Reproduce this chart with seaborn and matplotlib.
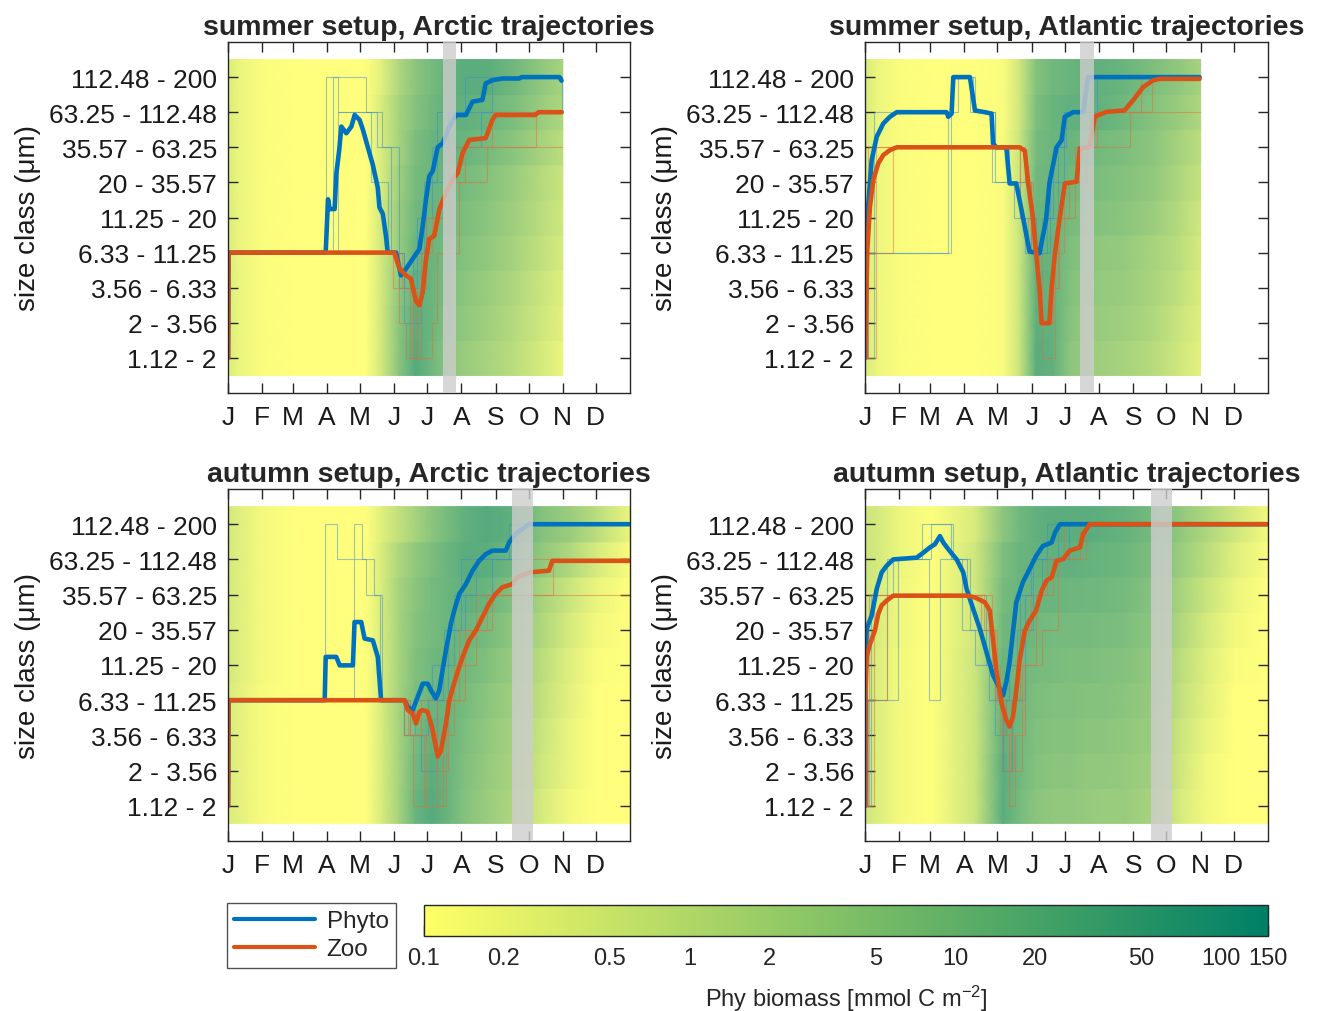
import numpy as np
import matplotlib
matplotlib.use("Agg")
import matplotlib.pyplot as plt
import matplotlib as mpl
from matplotlib.colors import LogNorm, ListedColormap
from matplotlib.lines import Line2D
import seaborn as sns

# ---------------- data ----------------
month_labels = ['J', 'F', 'M', 'A', 'M', 'J', 'J', 'A', 'S', 'O', 'N', 'D']
month_start_days = [0, 31, 59, 90, 120, 151, 181, 212, 243, 273, 304, 334]
size_classes = ['1.12 - 2', '2 - 3.56', '3.56 - 6.33', '6.33 - 11.25', '11.25 - 20',
                '20 - 35.57', '35.57 - 63.25', '63.25 - 112.48', '112.48 - 200']
titles = ['summer setup, Arctic trajectories', 'summer setup, Atlantic trajectories',
          'autumn setup, Arctic trajectories', 'autumn setup, Atlantic trajectories']
bands = [(195, 207), (195, 207), (258, 277), (259, 278)]

cbar_ticks = [0.1, 0.2, 0.5, 1, 2, 5, 10, 20, 50, 100, 150]
cbar_labels = ['0.1', '0.2', '0.5', '1', '2', '5', '10', '20', '50', '100', '150']

# biomass knots (day of year) and biomass per size class (row 1 = smallest)
knots_summer = [0, 10, 30, 60, 100, 125, 140, 155, 170, 185, 200, 215, 235, 260, 285, 304]
knots_autumn = [0, 10, 30, 60, 100, 125, 140, 155, 170, 185, 200, 215, 235, 260, 285, 310, 335, 365]

bio_summer_arctic = [
    [0.35, 0.2, 0.12, 0.1, 0.1, 0.1, 0.5, 5, 30, 12, 5, 3, 2, 1, 0.4, 0.2],
    [0.35, 0.2, 0.12, 0.1, 0.1, 0.1, 0.5, 5, 25, 15, 6, 4, 2.5, 1.2, 0.5, 0.25],
    [0.35, 0.2, 0.12, 0.1, 0.1, 0.1, 0.5, 4, 20, 15, 8, 5, 3, 1.5, 0.6, 0.3],
    [0.35, 0.2, 0.12, 0.1, 0.1, 0.1, 0.5, 3, 15, 15, 10, 6, 4, 2, 0.8, 0.4],
    [0.35, 0.2, 0.12, 0.1, 0.1, 0.1, 0.5, 3, 12, 15, 12, 8, 5, 2.5, 1, 0.5],
    [0.35, 0.2, 0.12, 0.1, 0.1, 0.1, 0.4, 2.5, 10, 15, 15, 10, 6, 3, 1.2, 0.6],
    [0.35, 0.2, 0.12, 0.1, 0.1, 0.1, 0.4, 2, 8, 15, 18, 15, 10, 5, 2, 1],
    [0.35, 0.2, 0.12, 0.1, 0.1, 0.1, 0.4, 2, 6, 12, 20, 20, 15, 8, 3, 1.5],
    [0.35, 0.2, 0.12, 0.1, 0.1, 0.1, 0.3, 1.5, 5, 10, 18, 25, 25, 12, 4, 2],
]
bio_summer_atlantic = [
    [0.4, 0.2, 0.12, 0.1, 0.1, 0.12, 0.6, 25, 20, 5, 3, 2.5, 2, 1.2, 0.5, 0.25],
    [0.4, 0.2, 0.12, 0.1, 0.1, 0.12, 0.6, 22, 20, 6, 3.5, 3, 2.5, 1.5, 0.6, 0.3],
    [0.4, 0.2, 0.12, 0.1, 0.1, 0.12, 0.6, 20, 18, 7, 4, 3.5, 3, 1.8, 0.8, 0.35],
    [0.4, 0.2, 0.12, 0.1, 0.1, 0.12, 0.6, 18, 16, 8, 5, 4, 3.5, 2, 1, 0.4],
    [0.4, 0.2, 0.12, 0.1, 0.1, 0.12, 0.6, 15, 15, 10, 7, 6, 5, 3, 1.2, 0.5],
    [0.4, 0.2, 0.12, 0.1, 0.1, 0.12, 0.6, 12, 15, 12, 9, 8, 6, 4, 1.5, 0.7],
    [0.4, 0.2, 0.12, 0.1, 0.1, 0.12, 0.6, 10, 15, 15, 12, 10, 8, 5, 2, 1],
    [0.4, 0.2, 0.12, 0.1, 0.1, 0.12, 0.5, 8, 15, 20, 20, 18, 12, 6, 3, 1.5],
    [0.4, 0.2, 0.12, 0.1, 0.1, 0.12, 0.5, 6, 12, 15, 20, 20, 15, 8, 4, 2],
]
bio_autumn_arctic = [
    [0.35, 0.25, 0.13, 0.1, 0.1, 0.1, 0.4, 2, 15, 30, 15, 6, 3, 1.5, 0.4, 0.15, 0.1, 0.1],
    [0.35, 0.25, 0.13, 0.1, 0.1, 0.1, 0.4, 2, 12, 25, 15, 7, 3.5, 1.8, 0.5, 0.2, 0.1, 0.1],
    [0.35, 0.25, 0.13, 0.1, 0.1, 0.1, 0.4, 2, 10, 20, 15, 8, 4, 2, 0.6, 0.2, 0.1, 0.1],
    [0.35, 0.25, 0.13, 0.1, 0.1, 0.1, 0.4, 2, 8, 15, 15, 10, 5, 2.5, 0.8, 0.25, 0.1, 0.1],
    [0.45, 0.3, 0.15, 0.1, 0.1, 0.1, 0.4, 2, 7, 12, 15, 12, 7, 3, 1, 0.3, 0.12, 0.1],
    [0.45, 0.3, 0.15, 0.1, 0.1, 0.1, 0.4, 2, 6, 10, 15, 15, 10, 4, 1.5, 0.4, 0.15, 0.1],
    [0.45, 0.3, 0.15, 0.1, 0.1, 0.1, 0.4, 2, 5, 10, 15, 20, 15, 6, 2, 0.6, 0.2, 0.1],
    [0.45, 0.3, 0.15, 0.1, 0.1, 0.1, 0.4, 1.5, 4, 8, 15, 25, 25, 12, 4, 1.5, 0.4, 0.12],
    [0.45, 0.3, 0.15, 0.1, 0.1, 0.1, 0.3, 0.8, 2, 5, 10, 20, 30, 20, 6, 3, 1, 0.2],
]
bio_autumn_atlantic = [
    [0.5, 0.35, 0.15, 0.1, 0.6, 25, 10, 5, 4, 4, 3.5, 3, 3, 2, 0.4, 0.15, 0.1, 0.1],
    [0.5, 0.35, 0.15, 0.1, 0.6, 25, 12, 6, 5, 5, 4, 4, 3.5, 2.5, 0.5, 0.15, 0.1, 0.1],
    [0.5, 0.35, 0.15, 0.1, 0.6, 20, 12, 7, 6, 6, 5, 5, 4, 3, 0.6, 0.2, 0.1, 0.1],
    [0.5, 0.35, 0.15, 0.1, 0.6, 18, 12, 8, 7, 7, 6, 6, 5, 3.5, 0.8, 0.25, 0.1, 0.1],
    [0.5, 0.35, 0.15, 0.1, 0.6, 15, 12, 10, 9, 8, 8, 7, 6, 4, 1, 0.3, 0.12, 0.1],
    [0.55, 0.4, 0.18, 0.1, 0.5, 12, 15, 12, 10, 10, 10, 9, 8, 5, 1.5, 0.4, 0.15, 0.1],
    [0.55, 0.4, 0.18, 0.1, 0.5, 10, 15, 15, 15, 14, 13, 12, 10, 6, 2, 0.6, 0.2, 0.1],
    [0.6, 0.45, 0.2, 0.1, 0.5, 8, 15, 18, 20, 20, 18, 16, 14, 8, 3, 1, 0.3, 0.12],
    [0.6, 0.45, 0.2, 0.1, 0.4, 5, 12, 20, 25, 25, 25, 22, 18, 10, 4, 1.5, 0.5, 0.15],
]

# mean size-class trajectories (day, size-class position)
phyto_sa_day = [0, 0.5, 88.7, 90.8, 92.3, 96.8, 98.3, 101, 102.9, 107.4, 112, 115, 119.5, 122.5, 127,
                131.5, 136, 137.5, 140.6, 143.6, 145, 152.6, 157, 161.7, 167.7, 173.8, 176.8, 179.8,
                182.8, 185.9, 190.4, 194.9, 201, 207, 216, 222, 231, 234, 240, 249, 264, 267, 301, 302.8]
phyto_sa_row = [1, 4, 4, 5.52, 5.24, 5.24, 6.23, 6.93, 7.59, 7.4, 7.59, 7.92, 7.78, 7.5, 7.0,
                6.5, 5.85, 5.29, 5.1, 4.43, 4.0, 4.0, 3.35, 3.54, 3.82, 4.1, 4.76, 5.52,
                6.18, 6.32, 7.0, 7.12, 7.59, 7.92, 7.92, 8.3, 8.35, 8.82, 8.91, 8.96, 8.96, 9.0, 9.0, 8.9]
zoo_sa_day = [0, 0.5, 151, 155.7, 161.7, 166, 170.8, 173.8, 176.8, 179.8, 182.8, 187.3, 191.9, 198,
              204, 208.6, 213, 219, 234, 240, 243, 279, 282, 303]
zoo_sa_row = [1, 4, 4, 3.54, 3.35, 3.26, 2.6, 2.5, 2.88, 3.82, 4.39, 4.48, 5.24, 5.71,
              6.08, 6.27, 6.84, 7.21, 7.26, 7.78, 7.92, 7.92, 8.0, 8.0]

phyto_st_day = [0, 0.8, 1.5, 6, 10.6, 16.6, 22.6, 28.7, 73.9, 75.4, 78.4, 80, 86, 95, 99.6, 108.6, 114.6,
                116, 119, 128, 131, 137, 143, 149, 158, 164, 167, 173.5, 178, 181, 188.6, 197.6, 202,
                212.7, 303]
phyto_st_row = [1, 4, 4.74, 6.63, 7.30, 7.68, 7.87, 8.0, 8.0, 7.87, 7.96, 9.0, 9.0, 9.0, 8.05, 8.0, 7.96,
                7.11, 7.0, 7.0, 5.97, 5.97, 5.02, 4.03, 3.98, 4.93, 5.97, 7.0, 7.2, 7.87, 8.0, 8.0, 9.0,
                9.0, 9.0]
zoo_st_day = [0, 2.1, 4.5, 7.5, 12, 16.6, 22.6, 28.7, 140, 144.8, 147.8, 152, 155, 158, 159.9, 167, 169,
              172, 176.5, 181, 191.6, 194.6, 203.6, 208, 218.7, 235, 242.8, 252, 261, 267, 303]
zoo_st_row = [1.0, 4.08, 5.31, 6.07, 6.54, 6.78, 6.92, 7.0, 7.0, 6.9, 5.97, 5.02, 3.98, 2.99, 1.99, 1.99,
              2.99, 3.98, 5.02, 5.97, 6.02, 6.97, 7.0, 7.87, 8.01, 8.05, 8.34, 8.72, 8.91, 8.95, 8.95]

phyto_aa_day = [0, 0.5, 87.8, 88.7, 98.3, 101.4, 113.4, 114.9, 121, 124, 131.5, 136, 139, 160.2, 163.2,
                167.7, 172.2, 176.8, 181.3, 184.3, 188.8, 191.8, 194.8, 197.9, 202.4, 205.4, 210, 216,
                222, 228, 234, 240.1, 252.2, 255.2, 261.2, 267.3, 273.3, 364]
phyto_aa_row = [1, 4, 4, 5.23, 5.23, 4.99, 4.99, 6.22, 6.22, 5.75, 5.70, 5.23, 4.0, 4.0, 3.81,
                3.72, 4.09, 4.47, 4.47, 4.28, 4.05, 4.28, 4.85, 5.42, 6.17, 6.55, 7.02, 7.30,
                7.68, 7.96, 8.15, 8.25, 8.25, 8.48, 8.72, 8.86, 9.0, 9.0]
zoo_aa_day = [0, 0.5, 160.2, 163.2, 167.7, 170.7, 173.8, 176.8, 181.3, 185.8, 190.4, 193.4, 197.9, 200.9,
              207, 213, 219, 225, 231, 237, 243, 249.2, 258.2, 262.7, 273.3, 291.4, 294.4, 364]
zoo_aa_row = [1, 4, 4, 3.72, 3.62, 3.34, 3.67, 3.72, 3.67, 3.15, 2.40, 2.58, 3.34, 4.0,
              4.66, 5.23, 5.70, 5.98, 6.36, 6.74, 7.02, 7.21, 7.30, 7.49, 7.63, 7.68, 7.96, 7.96]

phyto_at_day = [0, 0.5, 1.5, 6.0, 10.6, 15.1, 19.6, 25.6, 46.8, 52.8, 58.8, 63.3, 67.9, 70.9, 75.4, 83, 89,
                92, 98, 104, 110, 116, 122, 125, 128, 131, 134, 137, 143, 149, 155, 161, 169, 172, 176.5,
                364]
phyto_at_row = [1, 4.71, 6.03, 6.40, 7.16, 7.63, 7.82, 8.0, 8.05, 8.19, 8.34, 8.43, 8.66, 8.48, 8.29, 8.0,
                7.63, 7.16, 6.59, 6.03, 5.37, 4.71, 4.33, 4.14, 4.52, 5.09, 5.93, 6.78, 7.35, 7.72, 8.10,
                8.38, 8.48, 8.76, 9.0, 9.0]
zoo_at_day = [0, 0.3, 1.5, 4.5, 9, 12, 15, 19.6, 25.6, 92, 99.6, 108.6, 113, 116, 119, 123.7, 128, 131, 134,
              137, 140, 144.8, 149, 155, 160, 164.4, 169, 173.5, 179.5, 185.5, 194.6, 197.6, 203.6, 364]
zoo_at_row = [1, 4.09, 5.23, 5.6, 5.98, 6.45, 6.69, 6.83, 6.97, 6.97, 6.92, 6.78, 6.55, 5.70, 4.85, 3.91,
              3.43, 3.25, 3.53, 4.28, 5.13, 5.98, 6.26, 6.55, 7.11, 7.40, 7.49, 7.96, 8.01, 8.25, 8.34,
              8.72, 9.0, 9.0]

# individual trajectories (step changes: day, size class)
thin_phyto_sa = [
    ([0, 89, 100, 130, 145, 160, 168, 178, 190, 215, 300], [4, 9, 8, 6, 4, 3, 4, 6, 8, 9, 9]),
    ([0, 95, 125, 140, 155, 172, 185, 200, 240, 303], [4, 9, 8, 7, 3, 5, 7, 8, 9, 9]),
    ([0, 100, 135, 148, 160, 175, 180, 195, 230, 300, 303], [4, 8, 7, 4, 2, 4, 6, 7, 8, 8, 9]),
]
thin_zoo_sa = [
    ([0, 1, 150, 165, 172, 180, 195, 215, 240, 303], [1, 4, 3, 1, 3, 5, 6, 7, 8, 8]),
    ([0, 1, 155, 162, 175, 185, 200, 230, 280, 303], [1, 4, 2, 1, 4, 5, 7, 7, 8, 8]),
    ([0, 1, 158, 168, 185, 190, 210, 235, 303], [1, 4, 3, 1, 2, 4, 6, 7, 7]),
]
thin_phyto_st = [
    ([0, 3, 75, 84, 98, 118, 130, 150, 165, 175, 182, 200, 303], [1, 4, 8, 9, 8, 7, 6, 4, 5, 7, 8, 9, 9]),
    ([0, 8, 80, 95, 115, 135, 145, 160, 170, 180, 205, 303], [1, 8, 9, 8, 6, 5, 4, 5, 7, 8, 9, 9]),
    ([0, 2, 78, 100, 118, 140, 155, 168, 180, 210, 303], [1, 4, 9, 8, 6, 5, 4, 6, 8, 9, 9]),
]
thin_zoo_st = [
    ([0, 2, 25, 140, 150, 158, 170, 176, 185, 200, 240, 260, 303], [1, 4, 7, 6, 4, 2, 3, 5, 6, 7, 8, 9, 9]),
    ([0, 3, 140, 148, 156, 160, 172, 180, 195, 210, 303], [1, 7, 5, 4, 3, 1, 4, 6, 7, 8, 8]),
    ([0, 10, 145, 152, 160, 168, 175, 190, 205, 250, 303], [1, 7, 6, 4, 2, 3, 5, 7, 8, 9, 9]),
]
thin_phyto_aa = [
    ([0, 88, 99, 125, 138, 160, 175, 190, 200, 215, 240, 275, 364], [4, 9, 8, 7, 4, 3, 2, 4, 6, 7, 8, 9, 9]),
    ([0, 114, 122, 133, 140, 165, 182, 195, 205, 225, 255, 364], [4, 9, 8, 7, 4, 3, 4, 5, 7, 8, 9, 9]),
    ([0, 160, 170, 185, 196, 212, 230, 262, 364], [4, 3, 4, 5, 6, 8, 8, 9, 9]),
]
thin_zoo_aa = [
    ([0, 1, 160, 168, 180, 190, 200, 215, 240, 260, 295, 364], [1, 4, 3, 1, 3, 2, 4, 6, 7, 7, 8, 8]),
    ([0, 1, 163, 178, 186, 195, 205, 225, 250, 275, 364], [1, 4, 3, 1, 1, 3, 5, 7, 7, 8, 8]),
    ([0, 1, 165, 175, 190, 198, 210, 235, 290, 364], [1, 4, 3, 4, 1, 4, 6, 7, 7, 7]),
]
thin_phyto_at = [
    ([0, 2, 20, 52, 80, 92, 110, 120, 130, 140, 150, 165, 364], [1, 4, 8, 9, 8, 7, 5, 4, 5, 7, 8, 9, 9]),
    ([0, 5, 25, 58, 68, 88, 100, 118, 128, 138, 152, 175, 364], [1, 7, 8, 4, 8, 6, 5, 3, 4, 6, 8, 9, 9]),
    ([0, 3, 30, 60, 78, 95, 112, 125, 133, 145, 160, 185, 364], [1, 4, 8, 9, 8, 6, 4, 2, 4, 7, 8, 9, 9]),
]
thin_zoo_at = [
    ([0, 2, 20, 108, 118, 124, 132, 140, 150, 165, 180, 364], [1, 4, 7, 6, 4, 2, 4, 6, 7, 8, 9, 9]),
    ([0, 4, 100, 115, 122, 130, 136, 145, 160, 175, 200, 364], [1, 7, 7, 5, 3, 1, 3, 5, 6, 8, 9, 9]),
    ([0, 8, 105, 120, 128, 135, 142, 155, 170, 195, 364], [1, 7, 6, 4, 3, 2, 5, 7, 8, 9, 9]),
]

# ---------------- style ----------------
sns.set_theme(style="ticks")
plt.rcParams['font.family'] = ['Liberation Sans', 'DejaVu Sans']
plt.rcParams['mathtext.fontset'] = 'custom'
plt.rcParams['mathtext.rm'] = 'Liberation Sans'
plt.rcParams['mathtext.default'] = 'regular'

BLUE = '#0072BD'
ORANGE = '#D95319'
EDGE = '#262626'

cmap_bar = plt.get_cmap('summer_r')
heat_cols = cmap_bar(np.linspace(0, 1, 256))
heat_cols[:, :3] = heat_cols[:, :3] * 0.85 + 0.15
cmap_heat = ListedColormap(heat_cols)
norm = LogNorm(vmin=0.1, vmax=150)

fig = plt.figure(figsize=(13.2, 10.12), dpi=100)
W, H = 1320, 1012


def ax_at(x0, x1, ytop, ybot):
    return fig.add_axes([x0 / W, 1 - ybot / H, (x1 - x0) / W, (ybot - ytop) / H])


axes = [ax_at(228, 630, 43, 394), ax_at(865, 1268, 43, 394),
        ax_at(228, 630, 490, 842), ax_at(865, 1268, 490, 842)]

panel_knots = [knots_summer, knots_summer, knots_autumn, knots_autumn]
panel_bio = [bio_summer_arctic, bio_summer_atlantic, bio_autumn_arctic, bio_autumn_atlantic]
panel_phyto = [(phyto_sa_day, phyto_sa_row), (phyto_st_day, phyto_st_row),
               (phyto_aa_day, phyto_aa_row), (phyto_at_day, phyto_at_row)]
panel_zoo = [(zoo_sa_day, zoo_sa_row), (zoo_st_day, zoo_st_row),
             (zoo_aa_day, zoo_aa_row), (zoo_at_day, zoo_at_row)]
panel_thin_p = [thin_phyto_sa, thin_phyto_st, thin_phyto_aa, thin_phyto_at]
panel_thin_z = [thin_zoo_sa, thin_zoo_st, thin_zoo_aa, thin_zoo_at]

for i, ax in enumerate(axes):
    kn = np.asarray(panel_knots[i], dtype=float)
    bio = np.asarray(panel_bio[i], dtype=float)
    n = len(kn)
    for k in range(9):
        X = np.vstack([kn, kn])
        Y = np.vstack([np.full(n, k + 0.5), np.full(n, k + 1.5)])
        C = np.vstack([bio[k], bio[k]])
        ax.pcolormesh(X, Y, C, shading='gouraud', cmap=cmap_heat, norm=norm,
                      zorder=0, antialiased=False, rasterized=True)

    for d, r in panel_thin_p[i]:
        sns.lineplot(x=d, y=r, ax=ax, color='#3d8fd0', lw=0.8, alpha=0.5, drawstyle='steps-post',
                     estimator=None, sort=False, legend=False, zorder=1)
    for d, r in panel_thin_z[i]:
        sns.lineplot(x=d, y=r, ax=ax, color='#e0703f', lw=0.8, alpha=0.5, drawstyle='steps-post',
                     estimator=None, sort=False, legend=False, zorder=1)

    pd_, pr_ = panel_phyto[i]
    zd_, zr_ = panel_zoo[i]
    sns.lineplot(x=pd_, y=pr_, ax=ax, color=BLUE, lw=3.3, estimator=None, sort=False,
                 legend=False, zorder=2)
    sns.lineplot(x=zd_, y=zr_, ax=ax, color=ORANGE, lw=3.3, estimator=None, sort=False,
                 legend=False, zorder=2)

    ax.axvspan(bands[i][0], bands[i][1], color='#cdcdcd', alpha=0.8, lw=0, zorder=3)

    ax.set_xlim(0, 365)
    ax.set_ylim(0, 10)
    ax.set_xticks(month_start_days)
    ax.set_xticklabels(month_labels)
    ax.set_yticks(range(1, 10))
    ax.set_yticklabels(size_classes)
    ax.tick_params(direction='in', length=7, width=1, top=True, right=True,
                   labelsize=19, color=EDGE, labelcolor='#1a1a1a')
    ax.tick_params(axis='x', pad=9)
    ax.tick_params(axis='y', pad=8)
    ax.set_xlabel('')
    ax.set_ylabel('size class (μm)', fontsize=20, labelpad=6, color='#1a1a1a')
    ax.set_title(titles[i], fontsize=20.5, fontweight='bold', pad=6)
    ax.grid(False)
    for sp in ax.spines.values():
        sp.set_color(EDGE)
        sp.set_linewidth(1.0)

# colorbar
cax = fig.add_axes([424 / W, 1 - 937 / H, (1268 - 424) / W, (937 - 906) / H])
sm = mpl.cm.ScalarMappable(norm=norm, cmap=cmap_bar)
cb = fig.colorbar(sm, cax=cax, orientation='horizontal')
cb.minorticks_off()
cb.set_ticks(cbar_ticks)
cb.set_ticklabels(cbar_labels)
cax.tick_params(direction='in', length=8, width=1, labelsize=17, pad=8, color=EDGE)
cb.outline.set_edgecolor(EDGE)
cb.outline.set_linewidth(1.0)
cb.set_label('Phy biomass [mmol C m$^{-2}$]', fontsize=17, labelpad=10)

# legend
handles = [Line2D([], [], color=BLUE, lw=3, label='Phyto'),
           Line2D([], [], color=ORANGE, lw=3, label='Zoo')]
leg = fig.legend(handles=handles, loc='upper left', bbox_to_anchor=(227 / W, 1 - 904 / H),
                 frameon=True, fancybox=False, edgecolor=EDGE, fontsize=17.5,
                 handlelength=3.3, borderpad=0.3, labelspacing=0.25, handletextpad=0.5,
                 borderaxespad=0)
leg.get_frame().set_linewidth(1.0)

fig.savefig('out.png', dpi=100, facecolor='white')
